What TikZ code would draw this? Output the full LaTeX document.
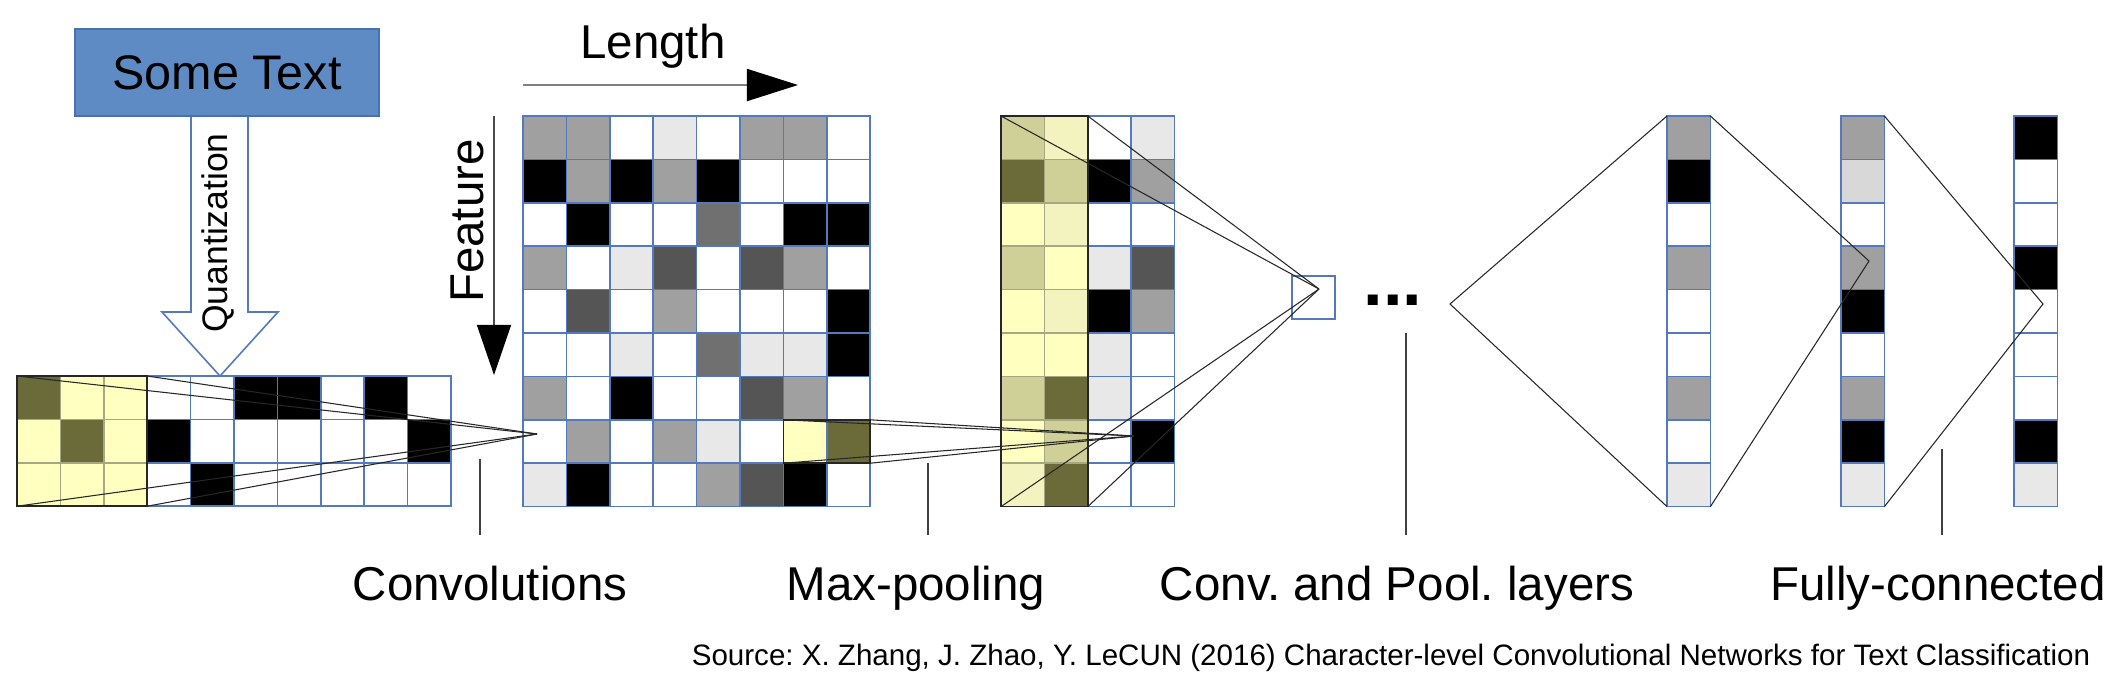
\documentclass[tikz,border=0pt]{standalone}
\usepackage{fontspec}
\setmainfont{Liberation Sans}
\usetikzlibrary{arrows.meta}
\frenchspacing

\definecolor{cellblue}{RGB}{84,122,190}
\definecolor{boxblue}{RGB}{95,139,196}
\definecolor{boxedge}{RGB}{72,112,178}
\definecolor{kedge}{RGB}{165,168,130}
\definecolor{gA}{RGB}{160,160,160}
\definecolor{gD}{RGB}{85,85,85}
\definecolor{gM}{RGB}{112,112,112}
\definecolor{gL}{RGB}{232,232,232}
\definecolor{gS}{RGB}{216,216,216}
\definecolor{yl}{RGB}{255,255,192}
\definecolor{pl}{RGB}{243,243,192}
\definecolor{kh}{RGB}{207,207,152}
\definecolor{ol}{RGB}{107,107,58}

\def\dC{43.4}

% grid of cells: left, top, rows of fill colours
\newcommand{\cellgrid}[3]{%
  \foreach \rw [count=\ri] in {#3} {
    \foreach \cl [count=\ci] in \rw {
      \path[cell, fill=\cl] ({#1+(\ci-1)*\dC}, {#2+(\ri-1)*\dC}) rectangle ++(\dC,\dC);
    }
  }%
}
% window over a grid: left, top, cols, rows
\newcommand{\kernelbox}[4]{%
  \foreach \ri in {1,...,#4} {
    \foreach \ci in {1,...,#3} {
      \draw[kcell] ({#1+(\ci-1)*\dC}, {#2+(\ri-1)*\dC}) rectangle ++(\dC,\dC);
    }
  }
  \draw[kbox] (#1,#2) rectangle ++({#3*\dC},{#4*\dC});%
}

\begin{document}
\begin{tikzpicture}[x=0.01cm, y=-0.01cm,
    cell/.style={draw=cellblue, line width=0.45pt},
    kcell/.style={draw=kedge, line width=0.45pt},
    kbox/.style={draw=black!85, line width=0.5pt},
    conn/.style={draw=black!85, line width=0.3pt},
    lead/.style={draw=black!75, line width=0.4pt},
    big/.style={font=\fontsize{13.5}{16}\selectfont, inner sep=0pt}]

    \useasboundingbox (0,0) rectangle (2114,696);

    %% text and quantization
    \draw[draw=cellblue, fill=white, line width=0.45pt]
        (191,116) -- (191,312) -- (162,312) -- (220,376) -- (278,312) -- (248,312) -- (248,116);
    \node[draw=boxedge, fill=boxblue, line width=0.5pt, minimum width=3.04cm,
          minimum height=0.87cm, font=\fontsize{13.8}{16}\selectfont, inner sep=0pt] (txt) at (227,72.5) {Some Text};
    \node[font=\fontsize{10.1}{12}\selectfont, rotate=90, anchor=base, inner sep=0pt]
        (quant) at (227,233) {Quantization};

    %% length and feature axes
    \coordinate (LA) at (523,85);
    \coordinate (LB) at (798,85);
    \draw[gray, line width=0.5pt, -{Triangle[length=5.1mm, width=3.2mm, black]}] (LA) -- (LB);
    \node[big, anchor=base] (len) at (653,58) {Length};

    \coordinate (FA) at (494,116);
    \coordinate (FB) at (494,375);
    \draw[black!70, line width=0.4pt, -{Triangle[length=5mm, width=3.4mm, black]}] (FA) -- (FB);
    \node[big, rotate=90, anchor=base] (feat) at (483,221) {Feature};

    %% input
    \cellgrid{17}{376}{{ol,yl,yl,white,white,black,black,white,black,white},
                       {yl,ol,yl,black,white,white,white,white,white,black},
                       {yl,yl,yl,white,black,white,white,white,white,white}}
    \kernelbox{17}{376}{3}{3}

    %% feature map
    \cellgrid{523}{116}{{gA,gA,white,gL,white,gA,gA,white},
                        {black,gA,black,gA,black,white,white,white},
                        {white,black,white,white,gM,white,black,black},
                        {gA,white,gL,gD,white,gD,gA,white},
                        {white,gD,white,gA,white,white,white,black},
                        {white,white,gL,white,gM,gL,gL,black},
                        {gA,white,black,white,white,gD,gA,white},
                        {white,gA,white,gA,gL,white,yl,ol},
                        {gL,black,white,white,gA,gD,black,white}}
    \draw[kbox] ({523+6*\dC},{116+7*\dC}) rectangle ++({2*\dC},\dC);

    %% pooled map
    \cellgrid{1001}{116}{{kh,pl,white,gL},
                         {ol,kh,black,gA},
                         {yl,pl,white,white},
                         {kh,yl,gL,gD},
                         {yl,pl,black,gA},
                         {yl,yl,gL,white},
                         {kh,ol,gL,white},
                         {yl,kh,white,black},
                         {pl,ol,white,white}}
    \kernelbox{1001}{116}{2}{9}

    \node[cell, fill=white, minimum size=0.434cm, inner sep=0pt, anchor=north west] (sbox) at (1291,275) {};
    \node[font=\bfseries\fontsize{20}{24}\selectfont, anchor=base, inner sep=0pt] (dots) at (1393,305) {...};

    %% layers
    \cellgrid{1667}{116}{{gA},{black},{white},{gA},{white},{white},{gA},{white},{gL}}
    \cellgrid{1841}{116}{{gA},{gS},{white},{gA},{black},{white},{gA},{black},{gL}}
    \cellgrid{2014}{116}{{black},{white},{white},{black},{white},{white},{white},{black},{gL}}

    %% connections
    \coordinate (K1) at (17,376);
    \coordinate (K2) at ({17+3*\dC},376);
    \coordinate (K3) at (17,{376+3*\dC});
    \coordinate (K4) at ({17+3*\dC},{376+3*\dC});
    \coordinate (T1) at (537,434);
    \foreach \k in {K1,K2,K3,K4} \draw[conn] (\k) -- (T1);

    \coordinate (M1) at ({523+6*\dC},{116+7*\dC});
    \coordinate (M2) at ({523+8*\dC},{116+7*\dC});
    \coordinate (M3) at ({523+6*\dC},{116+8*\dC});
    \coordinate (M4) at ({523+8*\dC},{116+8*\dC});
    \coordinate (T2) at (1134,436);
    \foreach \k in {M1,M2,M3,M4} \draw[conn] (\k) -- (T2);

    \coordinate (P1) at (1001,116);
    \coordinate (P2) at ({1001+2*\dC},116);
    \coordinate (P3) at (1001,{116+9*\dC});
    \coordinate (P4) at ({1001+2*\dC},{116+9*\dC});
    \coordinate (T3) at (1319,289);
    \foreach \k in {P1,P2,P3,P4} \draw[conn] (\k) -- (T3);

    \coordinate (C1a) at (1667,116);
    \coordinate (C1b) at (1667,{116+9*\dC});
    \coordinate (C1c) at ({1667+\dC},116);
    \coordinate (C1d) at ({1667+\dC},{116+9*\dC});
    \coordinate (C2c) at ({1841+\dC},116);
    \coordinate (C2d) at ({1841+\dC},{116+9*\dC});
    \coordinate (T4) at (1450,304);
    \coordinate (T5) at (1869,261);
    \coordinate (T6) at (2043,304);
    \draw[conn] (C1a) -- (T4) -- (C1b);
    \draw[conn] (C1c) -- (T5) -- (C1d);
    \draw[conn] (C2c) -- (T6) -- (C2d);

    %% labels
    \node[big, anchor=base] (lconv) at (490,600) {Convolutions};
    \node[big, anchor=base] (lpool) at (916,600) {Max-pooling};
    \node[big, anchor=base] (llay)  at (1397,600) {Conv. and Pool. layers};
    \node[big, anchor=base] (lfull) at (1938,600) {Fully-connected};

    \coordinate (D1) at (480,459);
    \coordinate (D2) at (928,463);
    \coordinate (D3) at (1406,333);
    \coordinate (D4) at (1942,449);
    \draw[lead] (D1) -- (D1 |- 0,535);
    \draw[lead] (D2) -- (D2 |- 0,535);
    \draw[lead] (D3) -- (D3 |- 0,535);
    \draw[lead] (D4) -- (D4 |- 0,535);

    \node[font=\fontsize{8.4}{10}\selectfont, anchor=base, inner sep=0pt] (src) at (1391,665)
        {Source: X. Zhang, J. Zhao, Y. LeCUN (2016) Character-level Convolutional Networks for Text Classification};

  \end{tikzpicture}
\end{document}
